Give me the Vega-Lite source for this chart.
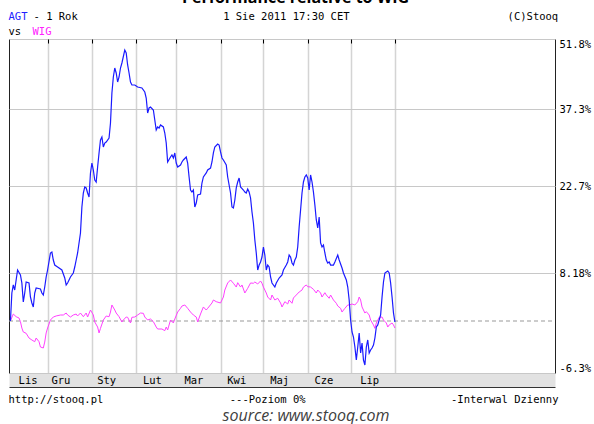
{
  "$schema": "https://vega.github.io/schema/vega-lite/v6.json",
  "width": 546,
  "height": 334,
  "autosize": {"type": "none"},
  "padding": {"left": 9, "top": 39, "right": 39, "bottom": 51},
  "background": "white",
  "config": {"view": {"stroke": "#222", "strokeWidth": 1}, "font": "DejaVu Sans Mono"},
  "title": {
    "text": "source: www.stooq.com",
    "orient": "bottom",
    "anchor": "middle",
    "frame": "group",
    "font": "Open Sans",
    "fontSize": 16,
    "fontStyle": "italic",
    "fontWeight": "normal",
    "color": "#404040",
    "offset": 3,
    "dx": 24
  },
  "datasets": {
    "agt": [
      {"date": "2010-11-05", "pct": 0},
      {"date": "2010-11-06", "pct": 4.77},
      {"date": "2010-11-07", "pct": 6.14},
      {"date": "2010-11-08", "pct": 5.28},
      {"date": "2010-11-09", "pct": 6.99},
      {"date": "2010-11-10", "pct": 8.68},
      {"date": "2010-11-12", "pct": 7.84},
      {"date": "2010-11-13", "pct": 6.48},
      {"date": "2010-11-14", "pct": 3.24},
      {"date": "2010-11-15", "pct": 4.77},
      {"date": "2010-11-16", "pct": 6.65},
      {"date": "2010-11-18", "pct": 6.48},
      {"date": "2010-11-19", "pct": 4.09},
      {"date": "2010-11-20", "pct": 3.07},
      {"date": "2010-11-21", "pct": 2.39},
      {"date": "2010-11-22", "pct": 4.77},
      {"date": "2010-11-23", "pct": 5.62},
      {"date": "2010-11-26", "pct": 5.45},
      {"date": "2010-11-27", "pct": 4.77},
      {"date": "2010-11-28", "pct": 4.43},
      {"date": "2010-11-29", "pct": 5.79},
      {"date": "2010-11-30", "pct": 7.5},
      {"date": "2010-12-01", "pct": 8.68},
      {"date": "2010-12-03", "pct": 11.52},
      {"date": "2010-12-04", "pct": 11.68},
      {"date": "2010-12-05", "pct": 10.35},
      {"date": "2010-12-06", "pct": 9.51},
      {"date": "2010-12-08", "pct": 9.18},
      {"date": "2010-12-11", "pct": 8.68},
      {"date": "2010-12-13", "pct": 7.33},
      {"date": "2010-12-14", "pct": 6.14},
      {"date": "2010-12-15", "pct": 6.48},
      {"date": "2010-12-17", "pct": 7.5},
      {"date": "2010-12-19", "pct": 8.18},
      {"date": "2010-12-20", "pct": 9.18},
      {"date": "2010-12-21", "pct": 10.35},
      {"date": "2010-12-22", "pct": 11.52},
      {"date": "2010-12-24", "pct": 14.86},
      {"date": "2010-12-25", "pct": 19.2},
      {"date": "2010-12-26", "pct": 21.53},
      {"date": "2010-12-27", "pct": 22.53},
      {"date": "2010-12-28", "pct": 22.37},
      {"date": "2010-12-29", "pct": 21.53},
      {"date": "2010-12-30", "pct": 20.86},
      {"date": "2010-12-31", "pct": 25.17},
      {"date": "2011-01-01", "pct": 27.06},
      {"date": "2011-01-02", "pct": 25.73},
      {"date": "2011-01-03", "pct": 23.84},
      {"date": "2011-01-04", "pct": 23.46},
      {"date": "2011-01-05", "pct": 26.3},
      {"date": "2011-01-06", "pct": 28.96},
      {"date": "2011-01-07", "pct": 31.42},
      {"date": "2011-01-08", "pct": 31.99},
      {"date": "2011-01-09", "pct": 30.1},
      {"date": "2011-01-10", "pct": 30.85},
      {"date": "2011-01-11", "pct": 31.04},
      {"date": "2011-01-13", "pct": 31.8},
      {"date": "2011-01-14", "pct": 34.65},
      {"date": "2011-01-15", "pct": 40.62},
      {"date": "2011-01-16", "pct": 43.93},
      {"date": "2011-01-17", "pct": 45.79},
      {"date": "2011-01-18", "pct": 44.76},
      {"date": "2011-01-19", "pct": 42.89},
      {"date": "2011-01-20", "pct": 43.93},
      {"date": "2011-01-21", "pct": 45.79},
      {"date": "2011-01-22", "pct": 46.83},
      {"date": "2011-01-24", "pct": 49.52},
      {"date": "2011-01-25", "pct": 48.9},
      {"date": "2011-01-26", "pct": 46.42},
      {"date": "2011-01-27", "pct": 44.76},
      {"date": "2011-01-28", "pct": 42.89},
      {"date": "2011-01-29", "pct": 42.27},
      {"date": "2011-01-31", "pct": 42.27},
      {"date": "2011-02-02", "pct": 41.86},
      {"date": "2011-02-05", "pct": 41.65},
      {"date": "2011-02-07", "pct": 40.82},
      {"date": "2011-02-08", "pct": 39.58},
      {"date": "2011-02-09", "pct": 36.54},
      {"date": "2011-02-10", "pct": 37.51},
      {"date": "2011-02-11", "pct": 37.72},
      {"date": "2011-02-13", "pct": 37.11},
      {"date": "2011-02-14", "pct": 35.21},
      {"date": "2011-02-15", "pct": 33.32},
      {"date": "2011-02-16", "pct": 33.89},
      {"date": "2011-02-17", "pct": 33.7},
      {"date": "2011-02-18", "pct": 34.27},
      {"date": "2011-02-20", "pct": 33.89},
      {"date": "2011-02-21", "pct": 32.75},
      {"date": "2011-02-22", "pct": 30.85},
      {"date": "2011-02-23", "pct": 27.25},
      {"date": "2011-02-25", "pct": 28.2},
      {"date": "2011-02-26", "pct": 28.58},
      {"date": "2011-02-27", "pct": 28.01},
      {"date": "2011-02-28", "pct": 28.96},
      {"date": "2011-03-01", "pct": 27.06},
      {"date": "2011-03-02", "pct": 26.3},
      {"date": "2011-03-04", "pct": 26.68},
      {"date": "2011-03-05", "pct": 27.25},
      {"date": "2011-03-06", "pct": 27.63},
      {"date": "2011-03-08", "pct": 28.2},
      {"date": "2011-03-09", "pct": 27.06},
      {"date": "2011-03-10", "pct": 24.41},
      {"date": "2011-03-11", "pct": 22.03},
      {"date": "2011-03-12", "pct": 21.7},
      {"date": "2011-03-13", "pct": 22.03},
      {"date": "2011-03-14", "pct": 19.2},
      {"date": "2011-03-15", "pct": 19.86},
      {"date": "2011-03-16", "pct": 21.2},
      {"date": "2011-03-18", "pct": 21.36},
      {"date": "2011-03-19", "pct": 23.27},
      {"date": "2011-03-20", "pct": 24.41},
      {"date": "2011-03-22", "pct": 25.17},
      {"date": "2011-03-23", "pct": 25.73},
      {"date": "2011-03-25", "pct": 26.11},
      {"date": "2011-03-26", "pct": 27.25},
      {"date": "2011-03-27", "pct": 28.96},
      {"date": "2011-03-28", "pct": 30.1},
      {"date": "2011-03-30", "pct": 30.66},
      {"date": "2011-03-31", "pct": 30.47},
      {"date": "2011-04-01", "pct": 29.15},
      {"date": "2011-04-02", "pct": 28.01},
      {"date": "2011-04-03", "pct": 27.63},
      {"date": "2011-04-05", "pct": 26.68},
      {"date": "2011-04-06", "pct": 24.41},
      {"date": "2011-04-08", "pct": 21.53},
      {"date": "2011-04-09", "pct": 19.2},
      {"date": "2011-04-10", "pct": 19.03},
      {"date": "2011-04-11", "pct": 20.36},
      {"date": "2011-04-12", "pct": 22.37},
      {"date": "2011-04-13", "pct": 23.46},
      {"date": "2011-04-14", "pct": 24.22},
      {"date": "2011-04-15", "pct": 22.53},
      {"date": "2011-04-17", "pct": 22.03},
      {"date": "2011-04-18", "pct": 21.7},
      {"date": "2011-04-19", "pct": 21.53},
      {"date": "2011-04-20", "pct": 22.2},
      {"date": "2011-04-21", "pct": 21.7},
      {"date": "2011-04-22", "pct": 20.7},
      {"date": "2011-04-23", "pct": 18.36},
      {"date": "2011-04-24", "pct": 16.52},
      {"date": "2011-04-25", "pct": 13.69},
      {"date": "2011-04-26", "pct": 11.52},
      {"date": "2011-04-27", "pct": 8.68},
      {"date": "2011-04-28", "pct": 9.51},
      {"date": "2011-04-29", "pct": 10.02},
      {"date": "2011-04-30", "pct": 10.85},
      {"date": "2011-05-01", "pct": 12.52},
      {"date": "2011-05-02", "pct": 11.18},
      {"date": "2011-05-03", "pct": 8.68},
      {"date": "2011-05-04", "pct": 9.51},
      {"date": "2011-05-05", "pct": 9.18},
      {"date": "2011-05-06", "pct": 7.5},
      {"date": "2011-05-07", "pct": 6.48},
      {"date": "2011-05-09", "pct": 5.79},
      {"date": "2011-05-10", "pct": 6.48},
      {"date": "2011-05-12", "pct": 7.33},
      {"date": "2011-05-14", "pct": 7.84},
      {"date": "2011-05-15", "pct": 8.68},
      {"date": "2011-05-17", "pct": 9.51},
      {"date": "2011-05-18", "pct": 10.02},
      {"date": "2011-05-19", "pct": 11.18},
      {"date": "2011-05-20", "pct": 10.85},
      {"date": "2011-05-21", "pct": 9.85},
      {"date": "2011-05-22", "pct": 9.51},
      {"date": "2011-05-23", "pct": 10.35},
      {"date": "2011-05-24", "pct": 10.85},
      {"date": "2011-05-25", "pct": 12.52},
      {"date": "2011-05-26", "pct": 15.86},
      {"date": "2011-05-27", "pct": 18.69},
      {"date": "2011-05-28", "pct": 21.53},
      {"date": "2011-05-29", "pct": 23.46},
      {"date": "2011-05-30", "pct": 24.41},
      {"date": "2011-05-31", "pct": 24.79},
      {"date": "2011-06-01", "pct": 24.22},
      {"date": "2011-06-02", "pct": 22.03},
      {"date": "2011-06-03", "pct": 24.79},
      {"date": "2011-06-04", "pct": 23.46},
      {"date": "2011-06-05", "pct": 21.7},
      {"date": "2011-06-06", "pct": 19.53},
      {"date": "2011-06-07", "pct": 17.03},
      {"date": "2011-06-08", "pct": 15.69},
      {"date": "2011-06-09", "pct": 17.53},
      {"date": "2011-06-10", "pct": 13.19},
      {"date": "2011-06-11", "pct": 12.52},
      {"date": "2011-06-12", "pct": 12.85},
      {"date": "2011-06-13", "pct": 11.52},
      {"date": "2011-06-14", "pct": 10.35},
      {"date": "2011-06-15", "pct": 9.85},
      {"date": "2011-06-16", "pct": 10.02},
      {"date": "2011-06-17", "pct": 9.51},
      {"date": "2011-06-19", "pct": 9.51},
      {"date": "2011-06-20", "pct": 10.02},
      {"date": "2011-06-22", "pct": 11.18},
      {"date": "2011-06-23", "pct": 10.35},
      {"date": "2011-06-25", "pct": 9.01},
      {"date": "2011-06-26", "pct": 8.18},
      {"date": "2011-06-28", "pct": 6.99},
      {"date": "2011-06-29", "pct": 5.79},
      {"date": "2011-06-30", "pct": 3.58},
      {"date": "2011-07-01", "pct": 0.17},
      {"date": "2011-07-02", "pct": -1.33},
      {"date": "2011-07-03", "pct": -1.94},
      {"date": "2011-07-04", "pct": -3.15},
      {"date": "2011-07-05", "pct": -4.73},
      {"date": "2011-07-06", "pct": -3.15},
      {"date": "2011-07-07", "pct": -1.45},
      {"date": "2011-07-08", "pct": -3.88},
      {"date": "2011-07-09", "pct": -2.67},
      {"date": "2011-07-10", "pct": -4.73},
      {"date": "2011-07-11", "pct": -5.33},
      {"date": "2011-07-12", "pct": -3.15},
      {"date": "2011-07-13", "pct": -2.3},
      {"date": "2011-07-14", "pct": -3.88},
      {"date": "2011-07-15", "pct": -3.51},
      {"date": "2011-07-16", "pct": -3.27},
      {"date": "2011-07-17", "pct": -2.91},
      {"date": "2011-07-18", "pct": -2.06},
      {"date": "2011-07-19", "pct": -0.73},
      {"date": "2011-07-20", "pct": -0.48},
      {"date": "2011-07-22", "pct": 1.02},
      {"date": "2011-07-23", "pct": 4.09},
      {"date": "2011-07-24", "pct": 6.65},
      {"date": "2011-07-25", "pct": 8.18},
      {"date": "2011-07-26", "pct": 8.35},
      {"date": "2011-07-27", "pct": 8.51},
      {"date": "2011-07-28", "pct": 8.18},
      {"date": "2011-07-29", "pct": 6.48},
      {"date": "2011-07-30", "pct": 4.09},
      {"date": "2011-07-31", "pct": 1.36},
      {"date": "2011-08-01", "pct": -0.12}
    ],
    "wig": [
      {"date": "2010-11-05", "pct": 0},
      {"date": "2010-11-07", "pct": 1.19},
      {"date": "2010-11-09", "pct": 0.73},
      {"date": "2010-11-11", "pct": 0.51},
      {"date": "2010-11-12", "pct": -0.08},
      {"date": "2010-11-13", "pct": -0.85},
      {"date": "2010-11-14", "pct": -1.33},
      {"date": "2010-11-16", "pct": -1.49},
      {"date": "2010-11-18", "pct": -2.06},
      {"date": "2010-11-20", "pct": -2.3},
      {"date": "2010-11-22", "pct": -2.51},
      {"date": "2010-11-23", "pct": -2.06},
      {"date": "2010-11-25", "pct": -2.51},
      {"date": "2010-11-26", "pct": -3.15},
      {"date": "2010-11-28", "pct": -3.27},
      {"date": "2010-11-29", "pct": -2.55},
      {"date": "2010-11-30", "pct": -1.45},
      {"date": "2010-12-01", "pct": -0.85},
      {"date": "2010-12-03", "pct": 0.17},
      {"date": "2010-12-05", "pct": 0.68},
      {"date": "2010-12-07", "pct": 0.86},
      {"date": "2010-12-10", "pct": 1.02},
      {"date": "2010-12-12", "pct": 1.02},
      {"date": "2010-12-14", "pct": 1.36},
      {"date": "2010-12-15", "pct": 1.02},
      {"date": "2010-12-17", "pct": 0.68},
      {"date": "2010-12-19", "pct": 1.02},
      {"date": "2010-12-21", "pct": 1.19},
      {"date": "2010-12-22", "pct": 0.86},
      {"date": "2010-12-24", "pct": 1.36},
      {"date": "2010-12-26", "pct": 0.73},
      {"date": "2010-12-28", "pct": 1.36},
      {"date": "2010-12-29", "pct": 0.68},
      {"date": "2010-12-31", "pct": 1.87},
      {"date": "2011-01-02", "pct": 1.02},
      {"date": "2011-01-03", "pct": -0.12},
      {"date": "2011-01-05", "pct": -0.73},
      {"date": "2011-01-06", "pct": -1.45},
      {"date": "2011-01-07", "pct": -0.89},
      {"date": "2011-01-09", "pct": 0.17},
      {"date": "2011-01-10", "pct": 0.51},
      {"date": "2011-01-11", "pct": 0.85},
      {"date": "2011-01-13", "pct": 0.73},
      {"date": "2011-01-14", "pct": 1.53},
      {"date": "2011-01-15", "pct": 2.73},
      {"date": "2011-01-17", "pct": 1.87},
      {"date": "2011-01-18", "pct": 1.36},
      {"date": "2011-01-20", "pct": 0.73},
      {"date": "2011-01-22", "pct": -0.12},
      {"date": "2011-01-23", "pct": 0.17},
      {"date": "2011-01-25", "pct": 0.68},
      {"date": "2011-01-26", "pct": 0.63},
      {"date": "2011-01-28", "pct": -0.24},
      {"date": "2011-01-29", "pct": 0.63},
      {"date": "2011-01-31", "pct": 0.68},
      {"date": "2011-02-02", "pct": 1.02},
      {"date": "2011-02-04", "pct": 1.36},
      {"date": "2011-02-06", "pct": 1.31},
      {"date": "2011-02-07", "pct": 0.68},
      {"date": "2011-02-09", "pct": 0.17},
      {"date": "2011-02-11", "pct": 0.34},
      {"date": "2011-02-13", "pct": -0.08},
      {"date": "2011-02-15", "pct": -0.73},
      {"date": "2011-02-16", "pct": -0.97},
      {"date": "2011-02-19", "pct": -0.97},
      {"date": "2011-02-21", "pct": -1.17},
      {"date": "2011-02-22", "pct": -0.73},
      {"date": "2011-02-23", "pct": -1.09},
      {"date": "2011-02-25", "pct": 0.17},
      {"date": "2011-02-27", "pct": -0.24},
      {"date": "2011-02-28", "pct": 0.34},
      {"date": "2011-03-02", "pct": 1.53},
      {"date": "2011-03-04", "pct": 2.16},
      {"date": "2011-03-05", "pct": 2.55},
      {"date": "2011-03-07", "pct": 2.73},
      {"date": "2011-03-09", "pct": 2.16},
      {"date": "2011-03-11", "pct": 1.53},
      {"date": "2011-03-13", "pct": 1.02},
      {"date": "2011-03-15", "pct": 0.68},
      {"date": "2011-03-16", "pct": -0.12},
      {"date": "2011-03-18", "pct": 1.19},
      {"date": "2011-03-20", "pct": 2.39},
      {"date": "2011-03-22", "pct": 1.87},
      {"date": "2011-03-23", "pct": 2.16},
      {"date": "2011-03-26", "pct": 3.07},
      {"date": "2011-03-27", "pct": 3.58},
      {"date": "2011-03-29", "pct": 3.29},
      {"date": "2011-04-01", "pct": 3.07},
      {"date": "2011-04-03", "pct": 4.09},
      {"date": "2011-04-04", "pct": 5.28},
      {"date": "2011-04-06", "pct": 6.48},
      {"date": "2011-04-08", "pct": 6.99},
      {"date": "2011-04-10", "pct": 6.43},
      {"date": "2011-04-12", "pct": 5.79},
      {"date": "2011-04-13", "pct": 6.53},
      {"date": "2011-04-15", "pct": 5.79},
      {"date": "2011-04-16", "pct": 6.14},
      {"date": "2011-04-18", "pct": 4.77},
      {"date": "2011-04-20", "pct": 5.57},
      {"date": "2011-04-22", "pct": 6.48},
      {"date": "2011-04-24", "pct": 6.43},
      {"date": "2011-04-25", "pct": 6.65},
      {"date": "2011-04-27", "pct": 6.31},
      {"date": "2011-04-29", "pct": 6.82},
      {"date": "2011-04-30", "pct": 6.43},
      {"date": "2011-05-01", "pct": 5.79},
      {"date": "2011-05-03", "pct": 4.77},
      {"date": "2011-05-04", "pct": 4.09},
      {"date": "2011-05-06", "pct": 3.58},
      {"date": "2011-05-07", "pct": 4.43},
      {"date": "2011-05-09", "pct": 3.58},
      {"date": "2011-05-11", "pct": 3.87},
      {"date": "2011-05-13", "pct": 3.07},
      {"date": "2011-05-14", "pct": 2.39},
      {"date": "2011-05-16", "pct": 3.29},
      {"date": "2011-05-18", "pct": 2.9},
      {"date": "2011-05-19", "pct": 3.58},
      {"date": "2011-05-21", "pct": 3.02},
      {"date": "2011-05-22", "pct": 3.92},
      {"date": "2011-05-24", "pct": 4.43},
      {"date": "2011-05-26", "pct": 4.94},
      {"date": "2011-05-28", "pct": 5.28},
      {"date": "2011-05-29", "pct": 5.79},
      {"date": "2011-05-31", "pct": 6.14},
      {"date": "2011-06-01", "pct": 5.85},
      {"date": "2011-06-03", "pct": 5.79},
      {"date": "2011-06-05", "pct": 5.4},
      {"date": "2011-06-07", "pct": 4.77},
      {"date": "2011-06-08", "pct": 5.28},
      {"date": "2011-06-10", "pct": 4.77},
      {"date": "2011-06-11", "pct": 4.09},
      {"date": "2011-06-13", "pct": 4.82},
      {"date": "2011-06-14", "pct": 4.43},
      {"date": "2011-06-16", "pct": 3.87},
      {"date": "2011-06-17", "pct": 4.43},
      {"date": "2011-06-19", "pct": 3.58},
      {"date": "2011-06-21", "pct": 3.02},
      {"date": "2011-06-22", "pct": 2.56},
      {"date": "2011-06-24", "pct": 2.16},
      {"date": "2011-06-25", "pct": 1.53},
      {"date": "2011-06-27", "pct": 2.16},
      {"date": "2011-06-29", "pct": 2.73},
      {"date": "2011-06-30", "pct": 2.73},
      {"date": "2011-07-02", "pct": 2.9},
      {"date": "2011-07-04", "pct": 2.73},
      {"date": "2011-07-06", "pct": 3.29},
      {"date": "2011-07-07", "pct": 4.09},
      {"date": "2011-07-08", "pct": 3.58},
      {"date": "2011-07-09", "pct": 2.39},
      {"date": "2011-07-11", "pct": 1.36},
      {"date": "2011-07-12", "pct": 1.59},
      {"date": "2011-07-14", "pct": 1.02},
      {"date": "2011-07-15", "pct": 0.17},
      {"date": "2011-07-17", "pct": -0.48},
      {"date": "2011-07-18", "pct": -0.89},
      {"date": "2011-07-19", "pct": -0.24},
      {"date": "2011-07-21", "pct": 0.63},
      {"date": "2011-07-23", "pct": 0.68},
      {"date": "2011-07-24", "pct": 0.17},
      {"date": "2011-07-26", "pct": -0.24},
      {"date": "2011-07-27", "pct": -0.73},
      {"date": "2011-07-28", "pct": -0.48},
      {"date": "2011-07-30", "pct": -0.24},
      {"date": "2011-07-31", "pct": -0.48},
      {"date": "2011-08-01", "pct": -0.85}
    ]
  },
  "layer": [
    {
      "data": {"values": [{"level": 0}]},
      "mark": {"type": "rule", "color": "#999999", "strokeDash": [4, 3], "strokeWidth": 1},
      "encoding": {
        "x": {
          "datum": {"year": 2010, "month": 11, "date": 4, "utc": true},
          "type": "temporal",
          "scale": {"type": "time", "domain": [{"year": 2010, "month": 11, "date": 4, "utc": true}, {"year": 2011, "month": 11, "date": 21, "utc": true}]},
          "axis": {
            "orient": "bottom",
            "offset": 7,
            "labels": false,
            "ticks": false,
            "grid": false,
            "domain": true,
            "domainColor": "#e2e2e2",
            "domainWidth": 13,
            "zindex": 0,
            "title": "http://stooq.pl\u00a0\u00a0\u00a0\u00a0\u00a0\u00a0\u00a0\u00a0\u00a0\u00a0\u00a0\u00a0\u00a0\u00a0\u00a0\u00a0\u00a0\u00a0\u00a0\u00a0---Poziom 0%\u00a0\u00a0\u00a0\u00a0\u00a0\u00a0\u00a0\u00a0\u00a0\u00a0\u00a0\u00a0\u00a0\u00a0\u00a0\u00a0\u00a0\u00a0\u00a0\u00a0\u00a0\u00a0\u00a0-Interwal Dzienny",
            "titleFont": "DejaVu Sans Mono",
            "titleFontSize": 10.5,
            "titleFontWeight": "normal",
            "titleColor": "#000",
            "titleX": -1,
            "titleY": 22,
            "titleAlign": "left",
            "titleBaseline": "alphabetic"
          }
        },
        "x2": {"datum": {"year": 2011, "month": 11, "date": 21, "utc": true}},
        "y": {
          "field": "level",
          "type": "quantitative",
          "scale": {"domain": [-6.3, 0, 8.18, 22.7, 37.3, 51.8], "range": [334, 282, 234, 147, 70, 0], "nice": false, "zero": false},
          "axis": {
            "orient": "left",
            "labels": false,
            "ticks": false,
            "domain": false,
            "grid": false,
            "title": "vs",
            "titleFont": "DejaVu Sans Mono",
            "titleFontSize": 10.5,
            "titleFontWeight": "normal",
            "titleColor": "#000",
            "titleAngle": 0,
            "titleX": -1,
            "titleY": -5,
            "titleAlign": "left",
            "titleBaseline": "alphabetic"
          }
        }
      }
    },
    {
      "data": {"name": "wig"},
      "mark": {"type": "line", "color": "#ff40ff", "strokeWidth": 1},
      "encoding": {
        "x": {
          "field": "date",
          "type": "temporal",
          "scale": {"type": "time", "domain": [{"year": 2010, "month": 11, "date": 4, "utc": true}, {"year": 2011, "month": 11, "date": 21, "utc": true}]},
          "axis": {
            "orient": "bottom",
            "values": [
              {"year": 2010, "month": 11, "date": 17, "utc": true},
              {"year": 2010, "month": 12, "date": 10, "utc": true},
              {"year": 2011, "month": 1, "date": 11, "utc": true},
              {"year": 2011, "month": 2, "date": 12, "utc": true},
              {"year": 2011, "month": 3, "date": 13, "utc": true},
              {"year": 2011, "month": 4, "date": 12, "utc": true},
              {"year": 2011, "month": 5, "date": 12, "utc": true},
              {"year": 2011, "month": 6, "date": 12, "utc": true},
              {"year": 2011, "month": 7, "date": 14, "utc": true}
            ],
            "grid": false,
            "ticks": false,
            "domain": true,
            "domainColor": "#333",
            "domainWidth": 1,
            "offset": 14,
            "zindex": 1,
            "labelExpr": "['Sty','Lut','Mar','Kwi','Maj','Cze','Lip','Sie','Wrz','Paź','Lis','Gru'][utcmonth(datum.value)]",
            "labelFont": "DejaVu Sans Mono",
            "labelFontSize": 10.5,
            "labelColor": "#000",
            "labelBaseline": "middle",
            "labelPadding": -7,
            "labelFlush": false,
            "labelOverlap": false,
            "title": "- 1 Rok\u00a0\u00a0\u00a0\u00a0\u00a0\u00a0\u00a0\u00a0\u00a0\u00a0\u00a0\u00a0\u00a0\u00a0\u00a0\u00a0\u00a0\u00a0\u00a0\u00a0\u00a0\u00a0\u00a01 Sie 2011 17:30 CET\u00a0\u00a0\u00a0\u00a0\u00a0\u00a0\u00a0\u00a0\u00a0\u00a0\u00a0\u00a0\u00a0\u00a0\u00a0\u00a0\u00a0\u00a0\u00a0\u00a0\u00a0\u00a0\u00a0\u00a0\u00a0(C)Stooq",
            "titleFont": "DejaVu Sans Mono",
            "titleFontSize": 10.5,
            "titleFontWeight": "normal",
            "titleColor": "#000",
            "titleX": 24,
            "titleY": -368,
            "titleAlign": "left",
            "titleBaseline": "alphabetic"
          }
        },
        "y": {
          "field": "pct",
          "type": "quantitative",
          "scale": {"domain": [-6.3, 0, 8.18, 22.7, 37.3, 51.8], "range": [334, 282, 234, 147, 70, 0], "nice": false, "zero": false},
          "axis": {
            "orient": "left",
            "labels": false,
            "ticks": false,
            "domain": false,
            "grid": false,
            "title": "Performance relative to WIG",
            "titleFont": "Open Sans",
            "titleFontSize": 16,
            "titleFontWeight": "bold",
            "titleColor": "#000",
            "titleAngle": 0,
            "titleX": 286,
            "titleY": -37,
            "titleAlign": "center",
            "titleBaseline": "alphabetic"
          }
        }
      }
    },
    {
      "data": {"name": "agt"},
      "mark": {"type": "line", "color": "#1a1aff", "strokeWidth": 1.2},
      "encoding": {
        "x": {
          "field": "date",
          "type": "temporal",
          "scale": {"type": "time", "domain": [{"year": 2010, "month": 11, "date": 4, "utc": true}, {"year": 2011, "month": 11, "date": 21, "utc": true}]},
          "axis": {
            "orient": "top",
            "values": [
              {"year": 2010, "month": 12, "date": 1, "utc": true},
              {"year": 2011, "month": 1, "date": 1, "utc": true},
              {"year": 2011, "month": 2, "date": 1, "utc": true},
              {"year": 2011, "month": 3, "date": 1, "utc": true},
              {"year": 2011, "month": 4, "date": 1, "utc": true},
              {"year": 2011, "month": 5, "date": 1, "utc": true},
              {"year": 2011, "month": 6, "date": 1, "utc": true},
              {"year": 2011, "month": 7, "date": 1, "utc": true},
              {"year": 2011, "month": 8, "date": 1, "utc": true}
            ],
            "grid": true,
            "gridColor": "#d4d4d4",
            "gridWidth": 1.5,
            "labels": false,
            "ticks": true,
            "tickSize": -4,
            "tickColor": "#000",
            "domain": false,
            "title": "AGT",
            "titleFont": "DejaVu Sans Mono",
            "titleFontSize": 10.5,
            "titleFontWeight": "normal",
            "titleColor": "#2020ff",
            "titleX": -1,
            "titleY": -20,
            "titleAlign": "left",
            "titleBaseline": "alphabetic"
          }
        },
        "y": {
          "field": "pct",
          "type": "quantitative",
          "scale": {"domain": [-6.3, 0, 8.18, 22.7, 37.3, 51.8], "range": [334, 282, 234, 147, 70, 0], "nice": false, "zero": false},
          "axis": {
            "orient": "right",
            "values": [-6.3, 8.18, 22.7, 37.3, 51.8],
            "grid": true,
            "gridColor": "#c8c8c8",
            "gridWidth": 1,
            "ticks": false,
            "domain": false,
            "labelExpr": "datum.value + '%'",
            "labelFont": "DejaVu Sans Mono",
            "labelFontSize": 10.5,
            "labelColor": "#000",
            "labelPadding": 4,
            "labelFlush": true,
            "title": "WIG",
            "titleFont": "DejaVu Sans Mono",
            "titleFontSize": 10.5,
            "titleFontWeight": "normal",
            "titleColor": "#ff20ff",
            "titleAngle": 0,
            "titleX": -523,
            "titleY": -5,
            "titleAlign": "left",
            "titleBaseline": "alphabetic"
          }
        }
      }
    }
  ],
  "resolve": {"axis": {"x": "independent", "y": "independent"}}
}
